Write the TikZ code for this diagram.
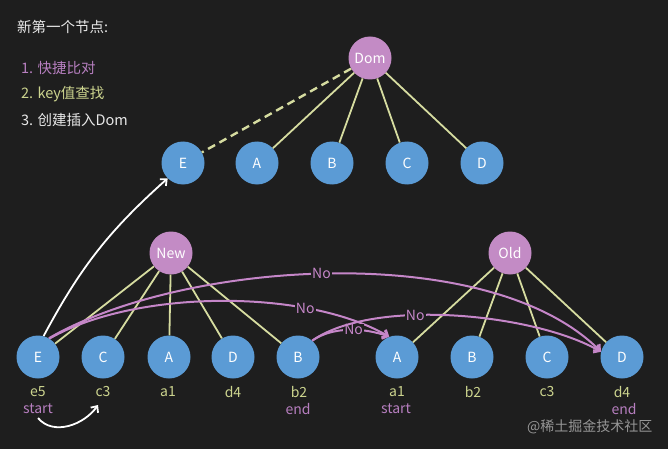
\documentclass[tikz,border=0pt]{standalone}
\usepackage{fontspec}
\setmainfont{Noto Sans CJK SC}
\usepackage{tikz}
\usetikzlibrary{arrows.meta}

\definecolor{bgdark}{RGB}{30,30,30}
\definecolor{nodeblue}{RGB}{91,155,213}
\definecolor{rootpink}{RGB}{195,139,197}
\definecolor{linegreen}{RGB}{214,220,160}
\definecolor{cmppink}{RGB}{197,134,200}
\definecolor{keygreen}{RGB}{204,212,142}
\definecolor{markpink}{RGB}{183,127,192}
\definecolor{notewhite}{RGB}{232,232,232}
\definecolor{markgray}{RGB}{150,150,150}

\begin{document}
\begin{tikzpicture}[x=1pt, y=1pt]
	\fill[bgdark] (0,0) rectangle (668,-449);
	\useasboundingbox (0,0) rectangle (668,-449);
	% steps
	\begin{scope}[every node/.style = {anchor = west, inner sep = 0pt,
		font = \fontsize{14.5}{17}\selectfont}]
		\node[text = notewhite] (T) at (17,-27) {新第一个节点:};
		\node[text = markpink] (S1) at (21,-68) {1. 快捷比对};
		\node[text = keygreen] (S2) at (21,-94) {2. key值查找};
		\node[text = notewhite] (S3) at (21,-120) {3. 创建插入Dom};
		\node[text = markgray, font = \fontsize{14}{16}\selectfont] (W) at (527,-427) {@稀土掘金技术社区};
	\end{scope}
	% trees
	\begin{scope}[every node/.style = {circle, fill = nodeblue, text = white,
		minimum size = 43pt, inner sep = 0pt, font = \fontsize{14}{16}\selectfont}]
		\node[fill = rootpink] (Dom) at (370,-58) {Dom};
		\node (DE) at (183,-163) {E};
		\node (DA) at (257,-163) {A};
		\node (DB) at (332,-163) {B};
		\node (DC) at (407,-163) {C};
		\node (DD) at (482,-163) {D};
		\node[fill = rootpink] (New) at (171,-253) {New};
		\node (NE) at (38,-357) {E};
		\node (NC) at (103,-357) {C};
		\node (NA) at (169,-357) {A};
		\node (ND) at (233,-357) {D};
		\node (NB) at (298,-357) {B};
		\node[fill = rootpink] (Old) at (510,-253) {Old};
		\node (OA) at (397,-357) {A};
		\node (OB) at (472,-357) {B};
		\node (OC) at (547,-357) {C};
		\node (OD) at (622,-357) {D};
	\end{scope}
	% keys
	\begin{scope}[every node/.style = {inner sep = 0pt, text = keygreen,
		font = \fontsize{14}{16}\selectfont}]
		\node (kNE) at (38,-392) {e5};
		\node (kNC) at (103,-392) {c3};
		\node (kNA) at (168,-392) {a1};
		\node (kND) at (233,-392) {d4};
		\node (kNB) at (299,-392) {b2};
		\node (kOA) at (397,-392) {a1};
		\node (kOB) at (473,-392) {b2};
		\node (kOC) at (547,-392) {c3};
		\node (kOD) at (622,-392) {d4};
		\node[text = markpink] (sN) at (38,-409) {start};
		\node[text = markpink] (eN) at (298,-409) {end};
		\node[text = markpink] (sO) at (396,-409) {start};
		\node[text = markpink] (eO) at (624,-409) {end};
	\end{scope}
	\begin{scope}[every edge/.style = {draw = linegreen, line width = 1.8pt}]
		\path [-] (Dom) edge[dash pattern = on 8pt off 5pt, line width = 2.4pt] (DE);
		\path [-] (Dom) edge (DA);
		\path [-] (Dom) edge (DB);
		\path [-] (Dom) edge (DC);
		\path [-] (Dom) edge (DD);
		\path [-] (New) edge (NE);
		\path [-] (New) edge (NC);
		\path [-] (New) edge (NA);
		\path [-] (New) edge (ND);
		\path [-] (New) edge (NB);
		\path [-] (Old) edge (OA);
		\path [-] (Old) edge (OB);
		\path [-] (Old) edge (OC);
		\path [-] (Old) edge (OD);
	\end{scope}
	% compares
	\begin{scope}[>={Straight Barb[length=5pt, width=9pt]},
			every edge/.style = {draw = cmppink, line width = 2pt},
			every node/.style = {fill = bgdark, text = cmppink, inner sep = 1pt,
				font = \fontsize{14}{16}\selectfont}]
		\path [->] (NE.60) edge[out = 30, in = 135, looseness = 0.73] node[pos = 0.48] (no1) {No} (OD.166);
		\path [->] (NE.58) edge[out = 30, in = 150, looseness = 0.735] node[pos = 0.73] (no2) {No} (OA.111);
		\path [->] (NB.49) edge[out = 35, in = 160, looseness = 0.85] node[pos = 0.55] (no3) {No} (OA.111);
		\path [->] (NB.49) edge[out = 35, in = 150, looseness = 0.67] node[pos = 0.38] (no4) {No} (OD.166);
	\end{scope}
	% moves
	\coordinate (mvA) at (38,-418);
	\coordinate (mvB) at (98,-405);
	\begin{scope}[>={Straight Barb[length=5pt, width=9pt]},
			every edge/.style = {draw = white, line width = 1.8pt}]
		\path [->] (NE.75) edge[bend left = 10] (DE.225);
		\path [->] (mvA) edge[out = -50, in = -125] (mvB);
	\end{scope}
\end{tikzpicture}
\end{document}
